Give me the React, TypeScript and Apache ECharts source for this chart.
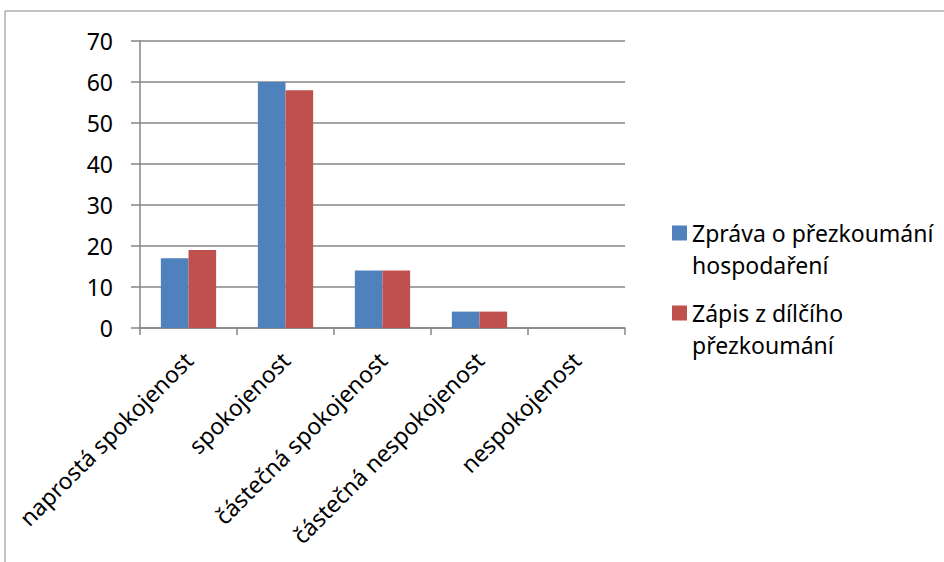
import React, { useEffect, useRef } from "react";
import * as echarts from "echarts";

const categories = [
  "naprostá spokojenost",
  "spokojenost",
  "částečná spokojenost",
  "částečná nespokojenost",
  "nespokojenost",
];
const seriesNames = ["Zpráva o přezkoumání hospodaření", "Zápis z dílčího přezkoumání"];
const legendLines = [
  ["Zpráva o přezkoumání", "hospodaření"],
  ["Zápis z dílčího", "přezkoumání"],
];
const zpravaValues = [17, 60, 14, 4, 0];
const zapisValues = [19, 58, 14, 4, 0];
const colors = ["#4F81BD", "#C0504D"];

const FONT = "Noto Sans";
const FS = 23;
const LH = 32;

export default function App() {
  const ref = useRef<HTMLDivElement>(null);
  useEffect(() => {
    if (!ref.current) return;
    const chart = echarts.init(ref.current, undefined, { renderer: "svg" });
    const legendCommon = (i: number, iconCenter: number) => ({
      data: [seriesNames[i]],
      left: 667,
      top: iconCenter - (3 * LH) / 2,
      orient: "vertical",
      itemWidth: 15,
      itemHeight: 15,
      icon: "rect",
      formatter: () => `{e| }\n{a|${legendLines[i][0]}}\n{a|${legendLines[i][1]}}`,
      textStyle: {
        fontFamily: FONT,
        fontSize: FS,
        color: "#000",
        rich: {
          e: { height: LH, lineHeight: LH, fontSize: FS, fontFamily: FONT },
          a: { height: LH, lineHeight: LH, fontSize: FS, fontFamily: FONT, color: "#000" },
        },
      },
    });
    chart.setOption({
      animation: false,
      backgroundColor: "#fff",
      textStyle: { fontFamily: FONT },
      grid: { left: 140, right: 319, top: 41, bottom: 234, containLabel: false },
      graphic: [
        { type: "line", shape: { x1: 5, y1: 11, x2: 944, y2: 11 }, style: { stroke: "#868686", lineWidth: 1 } },
        { type: "line", shape: { x1: 5, y1: 11, x2: 5, y2: 562 }, style: { stroke: "#868686", lineWidth: 1 } },
      ],
      legend: [legendCommon(0, 228), legendCommon(1, 308)],
      xAxis: {
        type: "category",
        data: categories,
        axisLine: { lineStyle: { color: "#868686", width: 1.5 } },
        axisTick: { show: true, length: 7, lineStyle: { color: "#868686", width: 1.5 } },
        axisLabel: {
          rotate: 45,
          margin: 28,
          fontSize: FS,
          fontFamily: FONT,
          color: "#000",
          interval: 0,
        },
      },
      yAxis: {
        type: "value",
        min: 0,
        max: 70,
        interval: 10,
        axisLine: { show: true, lineStyle: { color: "#868686", width: 1.5 } },
        axisTick: { show: true, length: 9, lineStyle: { color: "#868686", width: 1.5 } },
        splitLine: { lineStyle: { color: "#868686", width: 1.5 } },
        axisLabel: { margin: 27, fontSize: FS, fontFamily: FONT, color: "#000" },
      },
      series: [
        {
          name: seriesNames[0],
          type: "bar",
          data: zpravaValues,
          itemStyle: { color: colors[0] },
          barGap: "0%",
          barCategoryGap: "43%",
        },
        {
          name: seriesNames[1],
          type: "bar",
          data: zapisValues,
          itemStyle: { color: colors[1] },
          barGap: "0%",
          barCategoryGap: "43%",
        },
      ],
    });
    return () => chart.dispose();
  }, []);
  return (
    <div
      ref={ref}
      style={{ position: "fixed", left: 0, top: 0, width: 944, height: 562, background: "#fff" }}
    />
  );
}
